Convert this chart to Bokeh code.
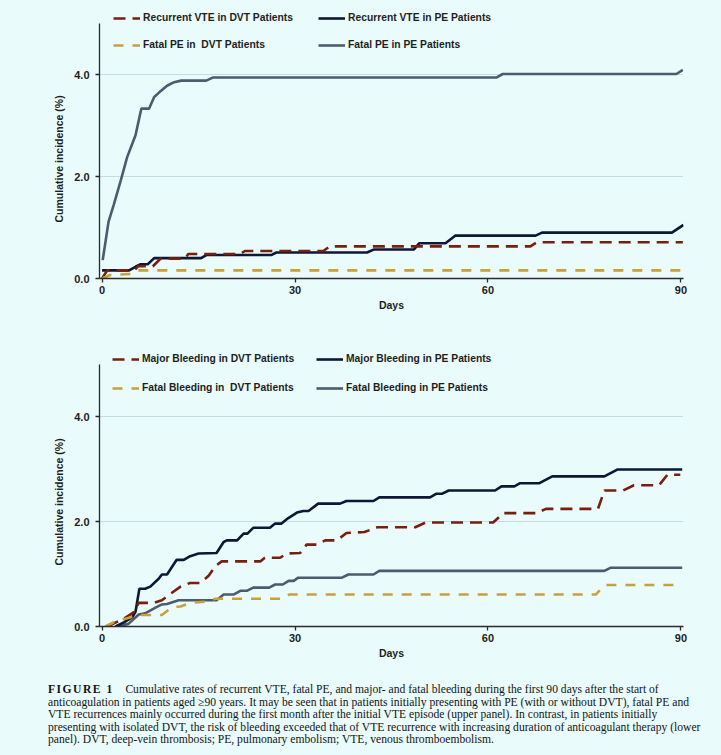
import re
from bokeh.plotting import figure
from bokeh.models import Range1d, FixedTicker, Legend, LegendItem, Div, NumeralTickFormatter, Title
from bokeh.layouts import column
from bokeh.embed import file_html
from bokeh.resources import INLINE

# ---------------- data ----------------
x_ticks = [0, 30, 60, 90]
y_ticks = [0, 2, 4]
grid_ticks = [2, 4]
x_title = "Days"
y_title = "Cumulative incidence (%)"

# upper panel
top_labels = ["Recurrent VTE in DVT Patients", "Recurrent VTE in PE Patients",
              "Fatal PE in  DVT Patients", "Fatal PE in PE Patients"]
rvte_dvt_days = [0, 0.8, 5.0, 5.6, 7.9, 9.1, 12.9, 13.4, 21.5, 22.2, 34.4, 35.4, 66.6, 67.6, 90.3]
rvte_dvt_vals = [0, 0.16, 0.16, 0.24, 0.24, 0.39, 0.39, 0.48, 0.48, 0.54, 0.54, 0.63, 0.63, 0.71, 0.71]
rvte_pe_days = [0, 4.2, 5.2, 6.0, 7.1, 8.1, 15.4, 16.2, 26.3, 27.1, 41.2, 42.3, 48.5, 49.3, 53.4, 54.9, 67.4, 68.4, 88.6, 90.4]
rvte_pe_vals = [0.16, 0.16, 0.23, 0.28, 0.28, 0.40, 0.40, 0.46, 0.46, 0.51, 0.51, 0.57, 0.57, 0.69, 0.69, 0.84, 0.84, 0.90, 0.90, 1.05]
fpe_dvt_days = [0, 1.3, 4.6, 5.5, 90.3]
fpe_dvt_vals = [0, 0.07, 0.09, 0.16, 0.16]
fpe_pe_days = [0.1, 1.0, 1.8, 2.9, 3.9, 5.2, 6.1, 7.3, 8.1, 8.9, 10.1, 11.2, 12.3, 16.2, 17.2, 61.3, 62.3, 89.3, 90.3]
fpe_pe_vals = [0.36, 1.11, 1.44, 1.92, 2.38, 2.81, 3.33, 3.33, 3.56, 3.65, 3.78, 3.85, 3.88, 3.88, 3.94, 3.94, 4.01, 4.01, 4.09]

# lower panel
bot_labels = ["Major Bleeding in DVT Patients", "Major Bleeding in PE Patients",
              "Fatal Bleeding in  DVT Patients", "Fatal Bleeding in PE Patients"]
mb_dvt_days = [0.8, 3.4, 4.9, 5.7, 8.0, 9.3, 10.6, 12.2, 13.7, 15.3, 16.6, 17.6, 18.6, 24.6, 25.3, 27.7, 28.7,
               30.8, 31.8, 33.4, 34.7, 36.5, 38.0, 40.8, 42.8, 48.7, 50.3, 60.8, 62.4, 67.6, 69.0, 77.1, 78.1,
               81.0, 82.7, 86.6, 87.9, 89.9]
mb_dvt_vals = [0.00, 0.15, 0.27, 0.45, 0.45, 0.50, 0.62, 0.76, 0.83, 0.83, 0.97, 1.15, 1.24, 1.24, 1.31, 1.31, 1.39,
               1.40, 1.56, 1.56, 1.64, 1.64, 1.78, 1.80, 1.89, 1.89, 1.98, 1.98, 2.16, 2.16, 2.24, 2.24, 2.59,
               2.59, 2.69, 2.69, 2.89, 2.89]
mb_pe_days = [2.1, 3.4, 4.7, 5.2, 5.8, 6.7, 7.5, 8.8, 9.3, 10.1, 11.6, 12.7, 13.7, 15.0, 17.8, 18.9, 19.4, 21.0,
              22.0, 22.6, 23.5, 26.1, 26.9, 27.9, 28.9, 30.3, 31.3, 32.1, 33.6, 37.0, 38.0, 42.2, 43.1, 51.0,
              52.0, 52.9, 53.9, 61.1, 62.1, 64.1, 65.0, 68.0, 70.0, 78.1, 80.1, 90.2]
mb_pe_vals = [0.00, 0.08, 0.18, 0.28, 0.72, 0.72, 0.76, 0.91, 0.99, 0.99, 1.27, 1.27, 1.34, 1.39, 1.40, 1.61, 1.64,
              1.64, 1.77, 1.77, 1.88, 1.88, 1.96, 1.96, 2.06, 2.17, 2.20, 2.20, 2.34, 2.34, 2.39, 2.39, 2.46,
              2.46, 2.53, 2.53, 2.59, 2.59, 2.67, 2.67, 2.73, 2.73, 2.86, 2.86, 2.99, 2.99]
fb_dvt_days = [0.5, 2.6, 3.4, 4.6, 5.9, 7.5, 9.3, 10.9, 12.2, 13.7, 16.8, 17.6, 28.2, 29.1, 76.8, 78.1, 90.0]
fb_dvt_vals = [0.00, 0.13, 0.14, 0.18, 0.22, 0.22, 0.22, 0.37, 0.38, 0.45, 0.48, 0.53, 0.53, 0.61, 0.61, 0.79, 0.79]
fb_pe_days = [2.3, 4.1, 5.7, 6.7, 8.3, 9.3, 10.1, 11.9, 17.8, 18.9, 20.5, 21.5, 22.5, 23.5, 26.0, 26.9, 28.1,
              29.0, 29.8, 30.5, 37.3, 38.3, 42.2, 43.1, 78.1, 79.1, 90.2]
fb_pe_vals = [0.00, 0.05, 0.23, 0.25, 0.36, 0.42, 0.43, 0.50, 0.50, 0.61, 0.61, 0.68, 0.68, 0.74, 0.74, 0.80, 0.80,
              0.87, 0.87, 0.93, 0.93, 0.99, 0.99, 1.06, 1.06, 1.12, 1.12]

caption_lines = [
    "Cumulative rates of recurrent VTE, fatal PE, and major- and fatal bleeding during the first 90 days after the start of",
    "anticoagulation in patients aged \u226590 years. It may be seen that in patients initially presenting with PE (with or without DVT), fatal PE and",
    "VTE recurrences mainly occurred during the first month after the initial VTE episode (upper panel). In contrast, in patients initially",
    "presenting with isolated DVT, the risk of bleeding exceeded that of VTE recurrence with increasing duration of anticoagulant therapy (lower",
    "panel). DVT, deep-vein thrombosis; PE, pulmonary embolism; VTE, venous thromboembolism.",
]

# ---------------- style ----------------
BG = "#e9fbfb"
NAVY = "#0e1733"
SLATE = "#4d5b6e"
RED = "#7a1e0e"
GOLD = "#c9a03a"
AX = "#2a2a2a"
TXT = "#1e1e1e"
FONT = "Liberation Sans"
W = 721


def make_panel(height, border_top, border_bottom, y_end, title_offset):
    p = figure(width=W, height=height, x_range=Range1d(-0.4, 90.4), y_range=Range1d(0, y_end),
               output_backend="svg", toolbar_location=None,
               min_border_left=99, min_border_right=38, min_border_top=border_top,
               min_border_bottom=border_bottom,
               background_fill_color=BG, border_fill_color=BG, outline_line_color=None)
    p.xaxis.ticker = FixedTicker(ticks=x_ticks)
    p.yaxis.ticker = FixedTicker(ticks=y_ticks)
    p.yaxis.formatter = NumeralTickFormatter(format="0.0")
    p.yaxis.bounds = (0, 5.0)
    p.xgrid.visible = False
    p.ygrid.ticker = FixedTicker(ticks=grid_ticks)
    p.ygrid.grid_line_color = "#9fbccb"
    p.ygrid.grid_line_dash = "1 1"
    p.ygrid.grid_line_width = 1
    for ax in (p.xaxis[0], p.yaxis[0]):
        ax.axis_line_color = AX
        ax.axis_line_width = 1.3
        ax.major_tick_line_color = AX
        ax.major_tick_line_width = 1.3
        ax.major_tick_out = 4
        ax.major_tick_in = 0
        ax.minor_tick_line_color = None
        ax.major_label_text_font = FONT
        ax.major_label_text_font_size = "11px"
        ax.major_label_text_font_style = "bold"
        ax.major_label_text_color = TXT
        ax.axis_label_text_font = FONT
        ax.axis_label_text_font_style = "bold"
        ax.axis_label_text_color = TXT
    p.xaxis.axis_label = x_title
    p.xaxis.axis_label_text_font_size = "10.5px"
    p.xaxis.major_label_standoff = 3
    p.xaxis.axis_label_standoff = 2
    p.yaxis.major_label_standoff = 6
    # vertical title on the left side, shifted along the axis
    p.add_layout(Title(text=y_title, align="left", offset=title_offset, standoff=14,
                       text_font=FONT, text_font_size="10.5px", text_font_style="bold",
                       text_color=TXT), "left")
    return p


def add_legend(p, label, r, vx, vy):
    lg = Legend(items=[LegendItem(label=label, renderers=[r])], location=(vx, vy),
                padding=0, margin=0, spacing=0, border_line_color=None,
                background_fill_alpha=0, glyph_width=27, glyph_height=12, label_height=12,
                label_standoff=3, label_text_font=FONT, label_text_font_size="10.3px",
                label_text_font_style="bold", label_text_color=TXT)
    p.add_layout(lg)


# ---------------- upper panel ----------------
p1 = make_panel(330, 10, 52, 268 / 51.0, 56)
r_fpe_pe = p1.line(fpe_pe_days, fpe_pe_vals, line_color=SLATE, line_width=2.6)
r_rvte_pe = p1.line(rvte_pe_days, rvte_pe_vals, line_color=NAVY, line_width=2.6)
r_rvte_dvt = p1.line(rvte_dvt_days, rvte_dvt_vals, line_color=RED, line_width=2.6, line_dash="12 7")
r_fpe_dvt = p1.line(fpe_dvt_days, fpe_dvt_vals, line_color=GOLD, line_width=2.6, line_dash="10 9")
add_legend(p1, top_labels[0], r_rvte_dvt, 14, 254.5)
add_legend(p1, top_labels[1], r_rvte_pe, 219, 254.5)
add_legend(p1, top_labels[2], r_fpe_dvt, 14, 227.5)
add_legend(p1, top_labels[3], r_fpe_pe, 219, 227.5)

# ---------------- lower panel ----------------
p2 = make_panel(340, 15, 44, 281 / 52.5, 61)
r_fb_pe = p2.line(fb_pe_days, fb_pe_vals, line_color=SLATE, line_width=2.6)
r_mb_pe = p2.line(mb_pe_days, mb_pe_vals, line_color=NAVY, line_width=2.6)
r_mb_dvt = p2.line(mb_dvt_days, mb_dvt_vals, line_color=RED, line_width=2.6, line_dash="12 7")
r_fb_dvt = p2.line(fb_dvt_days, fb_dvt_vals, line_color=GOLD, line_width=2.6, line_dash="10 9")
add_legend(p2, bot_labels[0], r_mb_dvt, 13, 261.5)
add_legend(p2, bot_labels[1], r_mb_pe, 217, 261.5)
add_legend(p2, bot_labels[2], r_fb_dvt, 13, 232.5)
add_legend(p2, bot_labels[3], r_fb_pe, 217, 232.5)

# ---------------- caption ----------------
cap_html = ('<div style="font-family:\'Liberation Serif\',serif; font-size:11.6px; line-height:12.6px; '
            'color:#141414; padding:9px 0 0 43px; white-space:nowrap;">'
            '<span style="font-weight:bold; letter-spacing:1.5px;">FIGURE 1</span>'
            '&nbsp;&nbsp;&nbsp;&nbsp;' + '<br>'.join(caption_lines) + '</div>')
div = Div(text=cap_html, width=W, height=85, styles={"background-color": BG})

layout = column(p1, p2, div, spacing=0, styles={"background-color": BG})
html = file_html(layout, INLINE, title="Figure 1")
html = re.sub(r"<body([^>]*)>", r'<body\1 style="background-color:%s;">' % BG, html, count=1)
html = re.sub(r"<html([^>]*)>", r'<html\1 style="background-color:%s;">' % BG, html, count=1)
open("out.html", "w").write(html)
